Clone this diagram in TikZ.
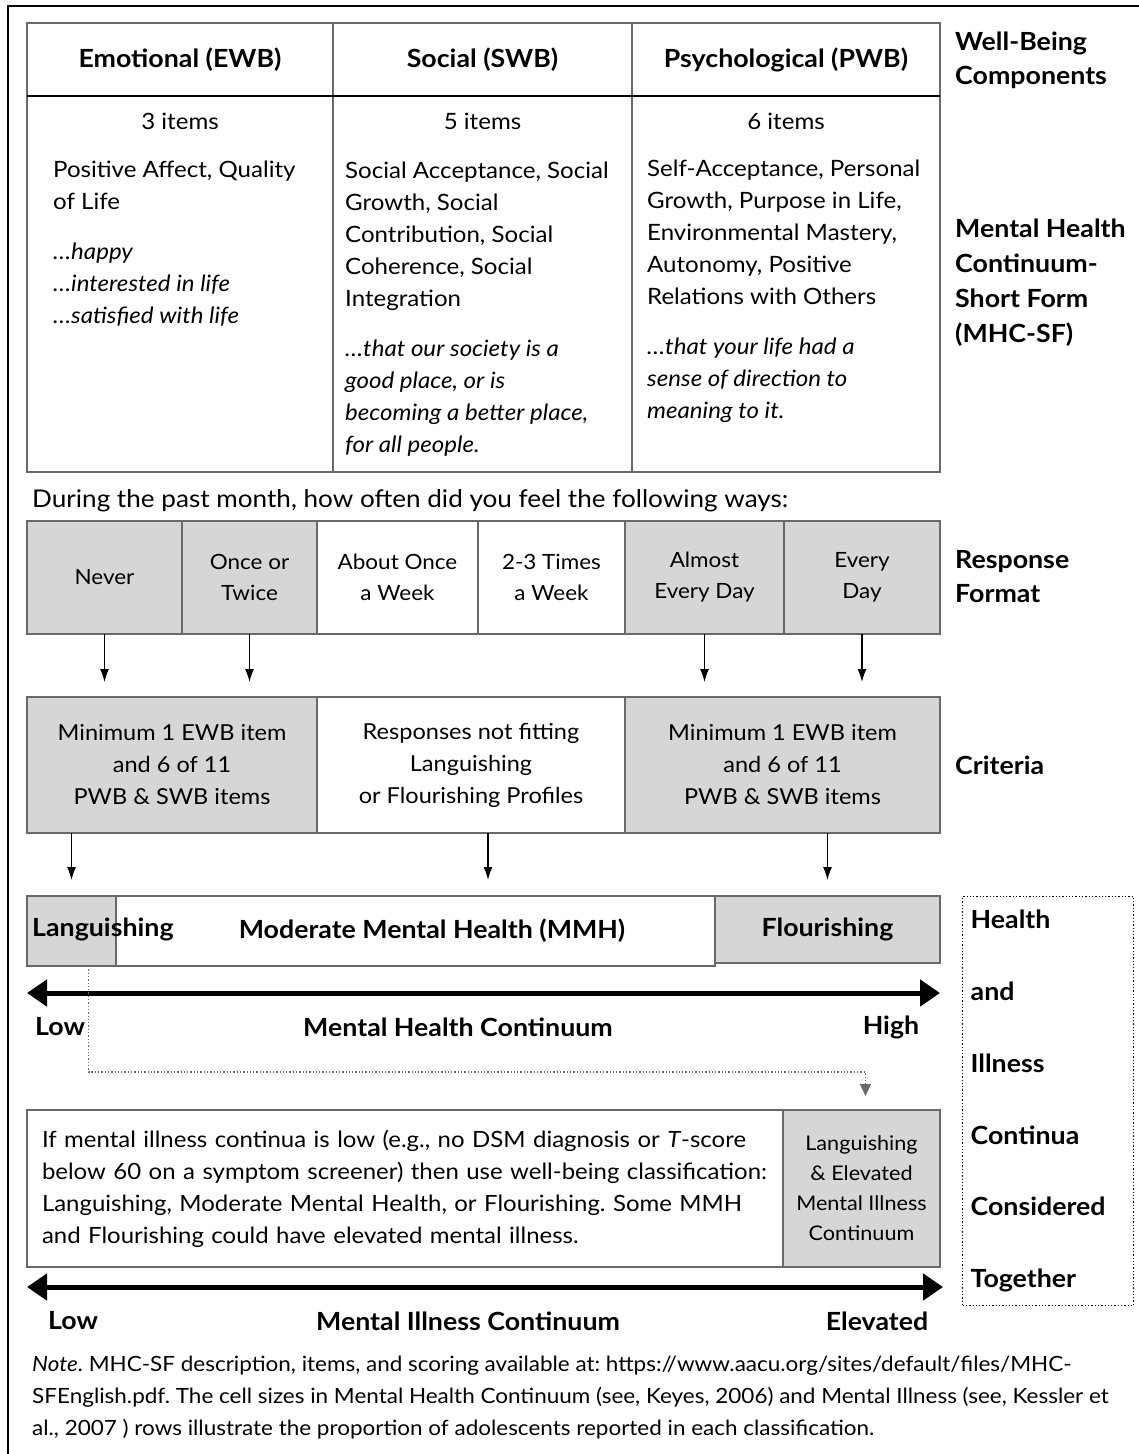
\documentclass[tikz,border=0pt]{standalone}
\usepackage{fontspec}
\setmainfont{Lato}[FakeStretch=1.07]
\frenchspacing
\usetikzlibrary{positioning,arrows.meta}
\definecolor{cellgray}{RGB}{214,214,214}
\definecolor{linegray}{RGB}{105,105,105}

\tikzset{
	box/.style={draw=linegray, line width=1.5pt, inner sep=0pt, outer sep=0pt, align=center, font=\fontsize{21}{31}\selectfont},
	shaded/.style={box, fill=cellgray},
	headcell/.style={box, minimum height=73pt, font=\fontsize{25}{34}\selectfont\bfseries},
	crit/.style={minimum height=136pt, font=\fontsize{22}{32}\selectfont},
	resp/.style={minimum height=113pt},
	bold/.style={inner sep=0pt, align=left, font=\fontsize{25}{34}\selectfont\bfseries},
	body/.style={inner sep=0pt, align=left, anchor=north west, font=\fontsize{22.5}{32}\selectfont},
	slant/.style={body, font=\fontsize{22.5}{32}\selectfont\itshape},
	down/.style={-{Latex[length=13pt,width=9pt]}, line width=1.3pt},
	axisline/.style={{Triangle[length=20pt,width=26pt]}-{Triangle[length=20pt,width=26pt]}, line width=5pt},
}

\begin{document}
\begin{tikzpicture}[x=1pt,y=-1pt]
	\useasboundingbox (0,0) rectangle (1139,1454);
	\draw[line width=2pt] (8,1480) -- (8,6) -- (1160,6);
	%
	\node[headcell, minimum width=306pt, anchor=north west] (ewbhead) at (27,23) {Emotional (EWB)};
	\node[headcell, minimum width=299pt, right=0pt of ewbhead] (swbhead) {Social (SWB)};
	\node[headcell, minimum width=308pt, right=0pt of swbhead] (pwbhead) {Psychological (PWB)};
	\node[box, minimum width=306pt, minimum height=376pt, below=0pt of ewbhead] (ewbbody) {};
	\node[box, minimum width=299pt, minimum height=376pt, below=0pt of swbhead] (swbbody) {};
	\node[box, minimum width=308pt, minimum height=376pt, below=0pt of pwbhead] (pwbbody) {};
	\draw[line width=2pt] (ewbhead.south west) -- (pwbhead.south east);
	%
	\node[body, anchor=north] (ewbcount) at ([yshift=-17pt]ewbbody.north) {3 items};
	\node[body, anchor=north] (swbcount) at ([yshift=-17pt]swbbody.north) {5 items};
	\node[body, anchor=north] (pwbcount) at ([yshift=-17pt]pwbbody.north) {6 items};
	\node[body] (ewbfacets) at (53,161) {Positive Affect, Quality\\of Life};
	\node[slant] (ewbitems) at (53,243) {…happy\\…interested in life\\…satisfied with life};
	\node[body] (swbfacets) at (345,162) {Social Acceptance, Social\\Growth, Social\\Contribution, Social\\Coherence, Social\\Integration};
	\node[slant] (swbitems) at (345,340) {…that our society is a\\good place, or is\\becoming a better place,\\for all people.};
	\node[body] (pwbfacets) at (647,160) {Self-Acceptance, Personal\\Growth, Purpose in Life,\\Environmental Mastery,\\Autonomy, Positive\\Relations with Others};
	\node[slant] (pwbitems) at (647,338) {…that your life had a\\sense of direction to\\meaning to it.};
	\node[bold, anchor=north west] (wblabel) at (955,32) {Well-Being\\Components};
	\node[bold, anchor=north west, font=\fontsize{25}{35}\selectfont\bfseries] (mhclabel) at (955,219) {Mental Health\\Continuum-\\Short Form\\(MHC-SF)};
	%
	\node[body, font=\fontsize{24.4}{32}\selectfont] (question) at (32,489) {During the past month, how often did you feel the following ways:};
	\node[shaded, resp, minimum width=155pt, anchor=north west] (never) at (27,521) {Never};
	\node[shaded, resp, minimum width=135pt, right=0pt of never] (once) {Once or\\Twice};
	\node[box, resp, minimum width=161pt, right=0pt of once] (weekly) {About Once\\a Week};
	\node[box, resp, minimum width=147pt, right=0pt of weekly] (twothree) {2-3 Times\\a Week};
	\node[shaded, resp, minimum width=159pt, right=0pt of twothree] (almost) {Almost\\Every Day};
	\node[shaded, resp, minimum width=156pt, right=0pt of almost] (daily) {Every\\Day};
	\node[bold, anchor=west] (resplabel) at (955,577) {Response\\Format};
	%
	\node[shaded, crit, minimum width=290pt, anchor=north west] (lowcrit) at (27,697) {Minimum 1 EWB item\\and 6 of 11\\PWB \& SWB items};
	\node[box, crit, minimum width=308pt, right=0pt of lowcrit] (midcrit) {Responses not fitting\\Languishing\\or Flourishing Profiles};
	\node[shaded, crit, minimum width=315pt, right=0pt of midcrit] (highcrit) {Minimum 1 EWB item\\and 6 of 11\\PWB \& SWB items};
	\node[bold, anchor=west] (critlabel) at (955,765) {Criteria};
	\draw[down, shorten >=15pt] (never.south) -- (never.south |- lowcrit.north);
	\draw[down, shorten >=15pt] (once.south) -- (once.south |- lowcrit.north);
	\draw[down, shorten >=15pt] (almost.south) -- (almost.south |- highcrit.north);
	\draw[down, shorten >=15pt] (daily.south) -- (daily.south |- highcrit.north);
	%
	\node[shaded, minimum width=89pt, minimum height=70pt, anchor=north west] (langbox) at (27,896) {};
	\node[box, minimum width=599pt, minimum height=70pt, right=0pt of langbox] (mmhbox) {};
	\node[shaded, bold, minimum width=225pt, minimum height=67pt, anchor=north west] (flourbox) at (mmhbox.north east) {Flourishing};
	\node[bold, anchor=west] (langtext) at (32,929) {Languishing};
	\node[bold] (mmhtext) at (432,931) {Moderate Mental Health (MMH)};
	\draw[down, shorten >=16pt] (lowcrit.south -| langbox.north) -- (langbox.north);
	\draw[down, shorten >=16pt] ([xshift=17pt]midcrit.south) -- ([xshift=17pt]midcrit.south |- mmhbox.north);
	\draw[down, shorten >=16pt] (highcrit.south -| flourbox.north) -- (flourbox.north);
	%
	\coordinate (hlow) at (27,993);
	\coordinate (hhigh) at (940,993);
	\draw[axisline] (hlow) -- (hhigh);
	\node[bold, anchor=west] (hlowtext) at (35,1027) {Low};
	\node[bold] (haxistext) at (458,1027) {Mental Health Continuum};
	\node[bold] (hhightext) at (891,1027) {High};
	%
	\node[box, minimum width=756pt, minimum height=157pt, anchor=north west, align=left, text width=726pt, font=\fontsize{22.4}{32}\selectfont] (illbox) at (27,1110) {If mental illness continua is low (e.g., no DSM diagnosis or \textit{T}-score\\below 60 on a symptom screener) then use well-being classification:\\Languishing, Moderate Mental Health, or Flourishing. Some MMH\\and Flourishing could have elevated mental illness.};
	\node[shaded, minimum width=157pt, minimum height=157pt, right=0pt of illbox, font=\fontsize{20.2}{30}\selectfont] (elevbox) {Languishing\\\& Elevated\\Mental Illness\\Continuum};
	\draw[dotted, line width=1.3pt, linegray, -{Triangle[length=12pt,width=11pt]}] ([xshift=17pt]langbox.south) |- ([xshift=4pt,yshift=38pt]elevbox.north) -- ([xshift=4pt,yshift=14pt]elevbox.north);
	\node[bold, draw, dotted, line width=1.3pt, minimum width=171pt, minimum height=409pt, anchor=north west, text width=155pt, inner xsep=8pt, font=\fontsize{25}{71.8}\selectfont\bfseries] (jointbox) at (962,896) {Health\\and\\Illness\\Continua\\Considered\\Together};
	%
	\coordinate (ilow) at (27,1287);
	\coordinate (ihigh) at (943,1287);
	\draw[axisline] (ilow) -- (ihigh);
	\node[bold, anchor=west] (ilowtext) at (48,1321) {Low};
	\node[bold] (iaxistext) at (468,1321) {Mental Illness Continuum};
	\node[bold] (ihightext) at (877,1321) {Elevated};
	%
	\node[body, font=\fontsize{21}{32}\selectfont] (note) at (32,1356) {\textit{Note}. MHC-SF description, items, and scoring available at: https://www.aacu.org/sites/default/files/MHC-\\SFEnglish.pdf. The cell sizes in Mental Health Continuum (see, Keyes, 2006) and Mental Illness (see, Kessler et\\al., 2007 ) rows illustrate the proportion of adolescents reported in each classification.};
\end{tikzpicture}
\end{document}
